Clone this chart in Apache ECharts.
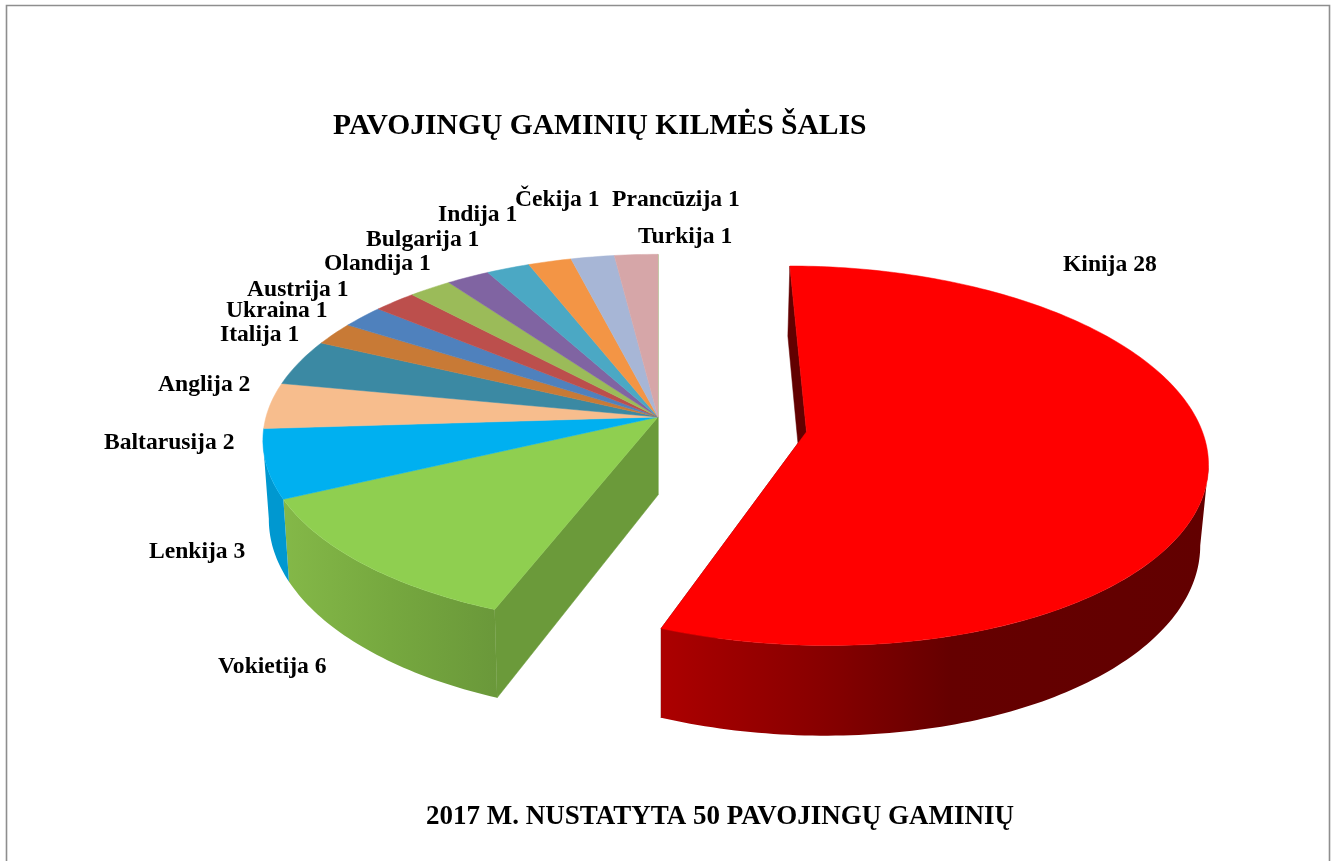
<!DOCTYPE html>
<html><head><meta charset="utf-8">
<style>html,body{margin:0;padding:0;background:#fff;overflow:hidden}#c{width:1334px;height:861px}</style>
<script src="https://cdn.jsdelivr.net/npm/echarts@6/dist/echarts.min.js"></script>
</head><body><div id="c"></div>
<script>
// ---- data ----
const chartTitle = 'PAVOJINGŲ GAMINIŲ KILMĖS ŠALIS';
const chartSubtitle = '2017 M. NUSTATYTA 50 PAVOJINGŲ GAMINIŲ';
const countries = ['Kinija','Vokietija','Lenkija','Baltarusija','Anglija','Italija','Ukraina','Austrija','Olandija','Bulgarija','Indija','Čekija','Prancūzija','Turkija'];
const counts = [28,6,3,2,2,1,1,1,1,1,1,1,1,1];
const explodedSlices = ['Kinija'];
// ---- styles ----
const sliceColors = ['#FF0000','#8FCF50','#00B0F0','#F7BD8D','#3B89A3','#C87A36','#4F81BD','#BC4F4C','#9BBB59','#8064A2','#4BA8C4','#F39545','#A7B6D6','#D6A6A8'];
const wallColors = {
  Kinija: [[0,'#ac0000'],[0.29,'#880000'],[0.53,'#650000'],[1,'#620000']],
  Vokietija: [[0,'#84b848'],[0.5,'#76a83f'],[1,'#6a983a']],
  Lenkija: [[0,'#0098d0'],[1,'#0098d0']]
};
const cutFaceColors = {Kinija:'#620000', Vokietija:'#6B9A3A', Turkija:'#6B9A3A'};
// ---- layout of the projected pie ----
const VP = {x:658, y:417};          // centre of the un-exploded pie
const R = {x:392, y:183};           // projected radii
const PERSP = 0.125;                // perspective strength
const DEPTH = 78;                   // thickness
const BASE_SHRINK = 0.985;          // bottom plane is slightly smaller
const EXPLODE = {x:0.375, y:0.08};  // offset of the exploded slice
const labelAnchors = {              // left edge / vertical middle of each data label
  Kinija:[1063,265], Vokietija:[218,667], Lenkija:[149,552], Baltarusija:[104,443], Anglija:[158,385],
  Italija:[220,335], Ukraina:[226,311], Austrija:[247,290], Olandija:[324,264], Bulgarija:[366,240],
  Indija:[438,215], 'Čekija':[515,200], 'Prancūzija':[612,200], Turkija:[638,237]
};
const FONT = '"Liberation Serif","Times New Roman",serif';

const total = counts.reduce((a,b)=>a+b,0);
const sweeps = []; let acc = 0;
counts.forEach(v => { const s = acc/total*Math.PI*2; acc += v; sweeps.push([s, acc/total*Math.PI*2]); });

function project(radius, t, ex, ey, base){
  const u = radius*Math.sin(t) + ex, v = -radius*Math.cos(t) + ey;
  const s = 1/(1 - PERSP*v);
  const k = base ? BASE_SHRINK : 1;
  return [VP.x + R.x*u*s*k, VP.y + R.y*v*s + (base ? DEPTH*s : 0)];
}
function arc(t0,t1,ex,ey,base){
  const n = Math.max(2, Math.ceil((t1-t0)/(Math.PI/180)));
  const pts = [];
  for(let i=0;i<=n;i++) pts.push(project(1, t0+(t1-t0)*i/n, ex, ey, base));
  return pts;
}
// angle at which the top disc reaches its right / left silhouette
function silhouette(ex,ey){
  let right=0,left=0,maxX=-1e9,minX=1e9;
  for(let d=0;d<360;d+=0.5){
    const t=d*Math.PI/180, x=project(1,t,ex,ey,false)[0];
    if(x>maxX){maxX=x;right=t;}
    if(x<minX){minX=x;left=t;}
  }
  return {right,left};
}
function renderSlice(params, api){
  const i = params.dataIndex, name = countries[i];
  const [t0,t1] = sweeps[i];
  const isEx = explodedSlices.includes(name);
  const ex = isEx?EXPLODE.x:0, ey = isEx?EXPLODE.y:0;
  const col = sliceColors[i];
  const kids = [];
  const prevName = countries[(i+countries.length-1)%countries.length];
  const nextName = countries[(i+1)%countries.length];
  const prevEx = explodedSlices.includes(prevName), nextEx = explodedSlices.includes(nextName);
  const face = t => ({type:'polygon', z2:1, shape:{points:[project(0,t,ex,ey,false),project(1,t,ex,ey,false),project(1,t,ex,ey,true),project(0,t,ex,ey,true)]},
    style:{fill:cutFaceColors[name]||col, stroke:cutFaceColors[name]||col, lineWidth:0.5}, silent:true});
  if(prevEx!==isEx) kids.push(face(t0));
  if(nextEx!==isEx) kids.push(face(t1));
  const stops = wallColors[name];
  if(stops){
    const sil = silhouette(ex,ey);
    const a = Math.max(t0, sil.right);
    const b = wallColors[nextName] ? t1 : sil.left;
    const wallFill = new echarts.graphic.LinearGradient(0,0,1,0,stops.map(s=>({offset:s[0],color:s[1]})));
    const wallPts = arc(a,b,ex,ey,false).concat(arc(a,b,ex,ey,true).reverse());
    kids.push({type:'polygon', z2:2, shape:{points:wallPts}, style:{fill:wallFill}, silent:true});
  }
  const top = [project(0,0,ex,ey,false)].concat(arc(t0,t1,ex,ey,false));
  kids.push({type:'polygon', z2:3, shape:{points:top}, style:{fill:col, stroke:col, lineWidth:0.5}, silent:true});
  const anchor = labelAnchors[name];
  kids.push({type:'text', z2:4, x:anchor[0], y:anchor[1], style:{text:name+' '+api.value(0), font:'bold 23.6px '+FONT, fill:'#000', textAlign:'left', textVerticalAlign:'middle'}, silent:true});
  return {type:'group', children:kids};
}
const chart = echarts.init(document.getElementById('c'), null, {renderer:'canvas'});
chart.setOption({
  animation:false, backgroundColor:'#fff',
  title:[
    {text:chartTitle, left:333, top:111, textStyle:{fontFamily:FONT,fontWeight:'bold',fontSize:29.6,color:'#000'}, padding:0},
    {text:chartSubtitle, left:426, top:804, textStyle:{fontFamily:FONT,fontWeight:'bold',fontSize:27,color:'#000'}, padding:0}
  ],
  graphic:[{type:'rect', silent:true, shape:{x:6.5,y:5.5,width:1323,height:900}, style:{fill:'none',stroke:'#8e8e8e',lineWidth:1.6}}],
  series:[{type:'custom', coordinateSystem:'none', renderItem:renderSlice, data:counts.map(v=>[v]), silent:true, clip:false}]
});
</script></body></html>
